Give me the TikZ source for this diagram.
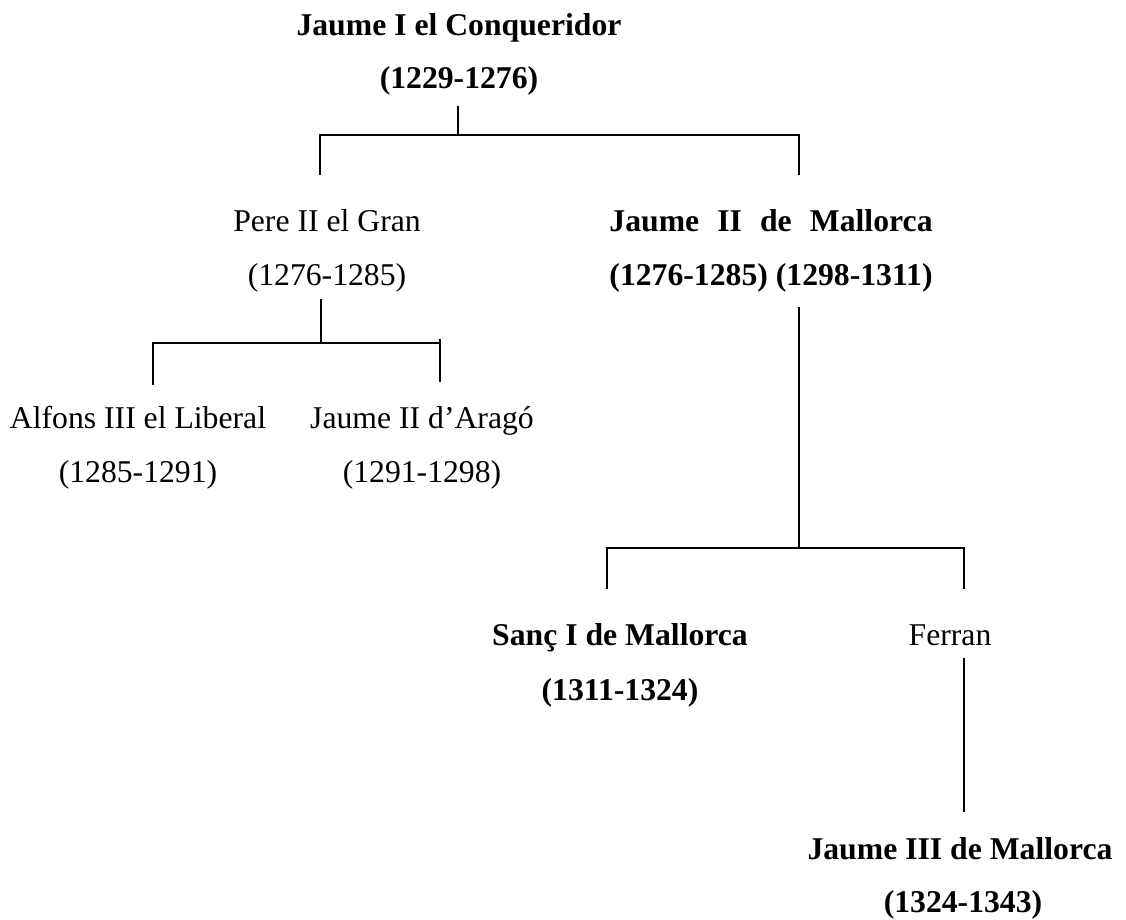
\documentclass[tikz,border=0pt]{standalone}
\usepackage{fontspec}
\setmainfont{Liberation Serif}
\begin{document}
\begin{tikzpicture}[x=1pt,y=-1pt,
  lbl/.style={anchor=base,inner sep=0pt,font=\fontsize{31.7}{38}\selectfont},
  blbl/.style={lbl,font=\fontsize{31.7}{38}\selectfont\bfseries},
  link/.style={line width=1.8pt,line cap=rect}]
\useasboundingbox (0,0) rectangle (1126,919);
% people
\node[blbl] (t1)  at (459,35) {Jaume I el Conqueridor};
\node[blbl] (t1d) at (459,88) {(1229-1276)};
\node[lbl]  (p)   at (327,231) {Pere II el Gran};
\node[lbl]  (pd)  at (327,285) {(1276-1285)};
\node[blbl] (m)   at (771,231) {\setbox0\hbox{(1276-1285) (1298-1311)}\makebox[\wd0][s]{Jaume II de Mallorca}};
\node[blbl] (md)  at (771,285) {(1276-1285) (1298-1311)};
\node[lbl]  (a)   at (138,428) {Alfons III el Liberal};
\node[lbl]  (ad)  at (138,482) {(1285-1291)};
\node[lbl]  (ja)  at (422,428) {Jaume II d’Aragó};
\node[lbl]  (jad) at (422,482) {(1291-1298)};
\node[blbl] (s)   at (620,645) {Sanç I de Mallorca};
\node[blbl] (sd)  at (620,700) {(1311-1324)};
\node[lbl]  (f)   at (950,645) {Ferran};
\node[blbl] (j3)  at (960,859) {Jaume III de Mallorca};
\node[blbl] (j3d) at (963,912) {(1324-1343)};
% junction coordinates
\coordinate (t1a) at (458,107);
\coordinate (t1b) at (458,135);
\coordinate (pb) at (320,135);
\coordinate (pt) at (320,174);
\coordinate (mb) at (799,135);
\coordinate (mt) at (799,174);
\coordinate (pda) at (321,300);
\coordinate (pdb) at (321,343);
\coordinate (ab) at (153,343);
\coordinate (at) at (153,384);
\coordinate (jab) at (440,340);
\coordinate (jat) at (440,381);
\coordinate (jah) at (440,343);
\coordinate (mda) at (799,308);
\coordinate (mdb) at (799,548);
\coordinate (sb) at (607,548);
\coordinate (st) at (607,588);
\coordinate (fb) at (964,548);
\coordinate (ft) at (964,588);
\coordinate (fa) at (964,659);
\coordinate (fz) at (964,811);
% connectors
\draw[link] (t1a) -- (t1b);
\draw[link] (pt) -- (pb) -- (mb) -- (mt);
\draw[link] (pda) -- (pdb);
\draw[link] (at) -- (ab) -- (jah);
\draw[link] (jab) -- (jat);
\draw[link] (mda) -- (mdb);
\draw[link] (st) -- (sb) -- (fb) -- (ft);
\draw[link] (fa) -- (fz);
\end{tikzpicture}
\end{document}
